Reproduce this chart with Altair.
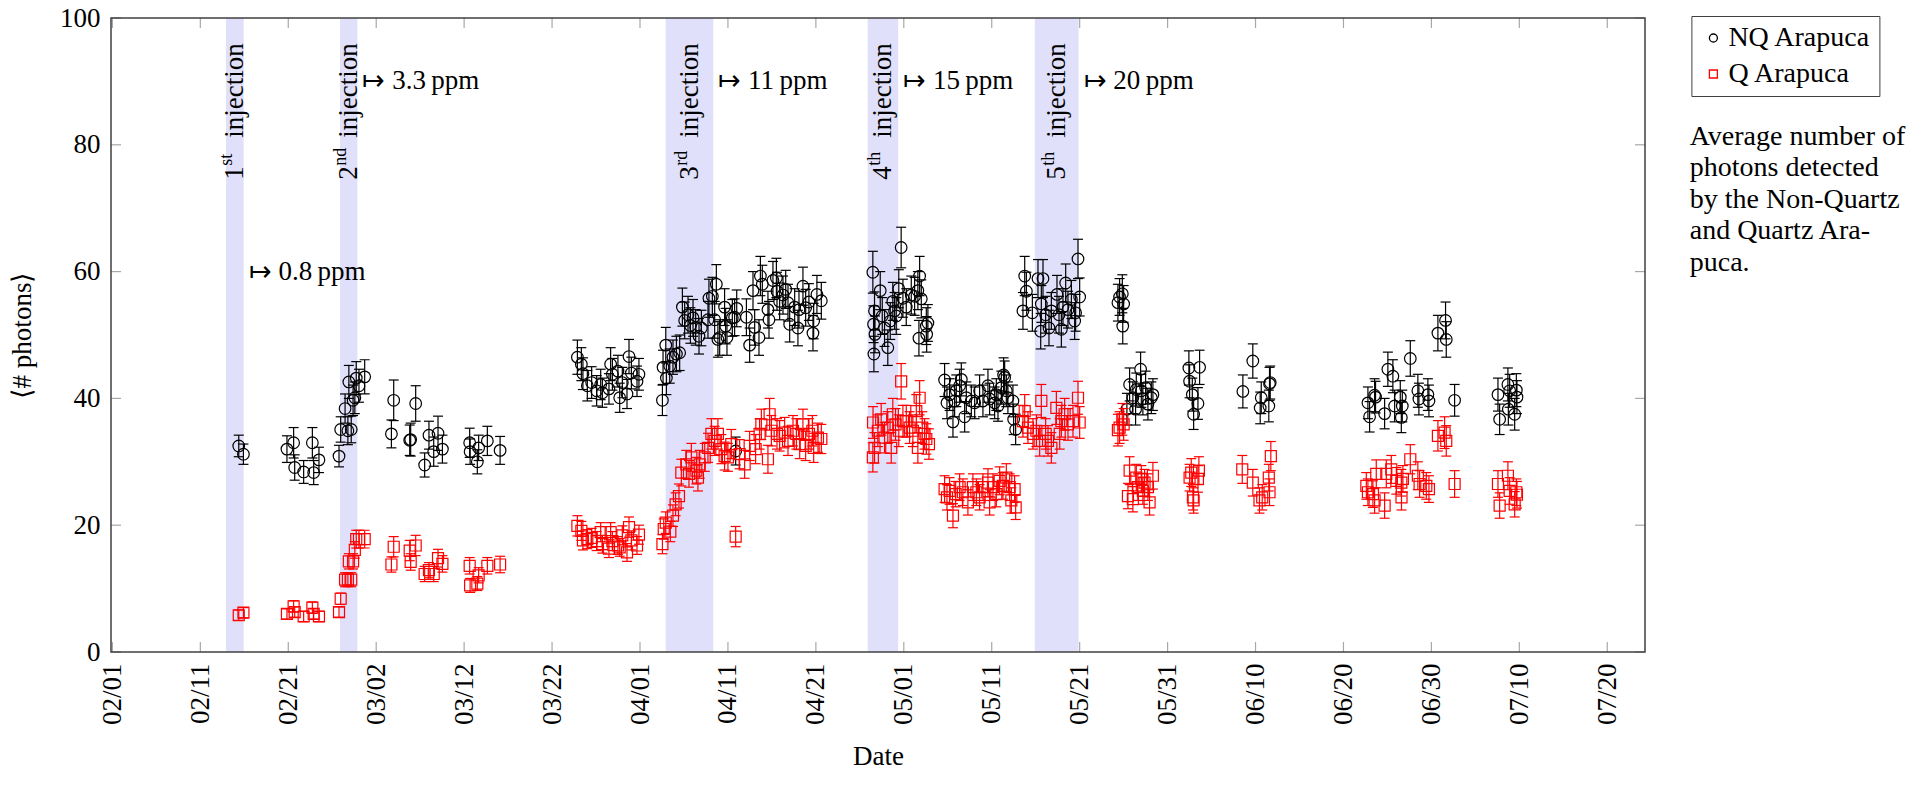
import altair as alt
import numpy as np
import pandas as pd

# ---------------------------------------------------------------- data
start_date = "2020-02-01"  # day offsets below are counted from this date

x_tick_labels = ["02/01", "02/11", "02/21", "03/02", "03/12", "03/22", "04/01", "04/11",
                 "04/21", "05/01", "05/11", "05/21", "05/31", "06/10", "06/20", "06/30",
                 "07/10", "07/20"]
y_tick_values = [0, 20, 40, 60, 80, 100]
series_names = ["NQ Arapuca", "Q Arapuca"]

inj_start = [12.92, 25.88, 62.92, 85.89, 104.90]
inj_end = [14.93, 27.86, 68.34, 89.36, 109.88]
inj_num = ["1", "2", "3", "4", "5"]
inj_sup = ["st", "nd", "rd", "th", "th"]
ppm_text = ["\u21a6 0.8\u2009ppm", "\u21a6 3.3\u2009ppm", "\u21a6 11\u2009ppm",
            "\u21a6 15\u2009ppm", "\u21a6 20\u2009ppm"]
ppm_y = [60, 90, 90, 90, 90]
inj_label_y = 74.5

caption_lines = ["Average number of", "photons detected", "by the Non-Quartz",
                 "and Quartz Ara-", "puca."]

# Non-Quartz Arapuca
nq_day = [
    14.37, 14.9,
    19.85, 20.61, 20.73, 21.75, 22.74, 22.89, 23.49,
    25.77, 25.96, 26.46, 26.78, 26.89, 27.16, 27.37, 27.57, 27.73, 28.04, 28.69,
    31.73, 31.99, 33.81, 33.92, 34.49, 35.51, 36.0, 36.54, 37.03, 37.53,
    40.63, 40.68, 41.5, 41.65, 42.64, 44.09,
    52.88, 53.33, 53.51, 54.01, 54.5, 55.07, 55.53, 55.72, 56.47, 56.66, 56.86, 57.49,
    57.69, 57.99, 58.52, 58.75, 59.02, 59.66, 59.88,
    62.55, 62.62, 62.93, 63.0, 63.38, 63.75, 64.14, 64.51, 64.82, 65.08, 65.46, 65.73,
    66.03, 66.33, 66.71, 66.98, 67.73, 67.84, 68.23, 68.49, 68.68, 68.86, 69.06, 69.62,
    69.74, 69.89, 70.5, 70.76, 70.88, 71.0, 72.1, 72.47, 72.85, 73.04, 73.53, 73.69,
    73.91, 74.55, 74.67, 75.12, 75.51, 75.58, 75.88, 76.26, 76.57, 76.83, 77.02, 77.59,
    77.96, 78.08, 78.53, 78.84, 79.21, 79.67, 79.75, 80.12, 80.62,
    86.48, 86.56, 86.6, 86.67, 86.72, 87.32, 87.55, 87.81, 88.18, 88.46, 88.75, 88.95,
    89.14, 89.43, 89.7, 89.9, 90.28, 90.85, 91.23, 91.6, 91.72, 91.8, 91.99, 92.56,
    92.6, 92.74,
    94.64, 94.91, 95.21, 95.59, 95.78, 95.97, 96.35, 96.54, 96.92, 97.11, 97.68, 98.06,
    98.62, 99.0, 99.57, 99.76, 100.33, 100.52, 100.71, 101.09, 101.35, 101.47, 101.66,
    101.84, 102.41, 102.49, 102.72,
    103.55, 103.75, 103.94, 104.62, 105.26, 105.57, 105.64, 105.83, 106.13, 106.51,
    106.78, 107.42, 107.65, 107.92, 108.1, 108.41, 108.67, 109.06, 109.43, 109.54,
    109.81, 110.0,
    114.35, 114.54, 114.85, 114.9, 115.0,
    115.37, 115.68, 116.05, 116.36, 116.44, 116.93, 117.01, 117.19, 117.5, 117.76,
    118.15, 118.33,
    122.42, 122.5, 122.81, 122.96, 123.45, 123.64,
    128.56, 129.69, 130.53, 130.65, 131.51, 131.59, 131.67,
    142.78, 142.97, 143.54, 143.65, 144.68, 145.05, 145.62, 145.82, 146.46, 146.58,
    146.69, 147.6, 148.46, 148.58, 149.6, 149.72, 150.74, 151.61, 151.69, 152.64,
    157.57, 157.76, 158.7, 158.75, 158.9, 159.47, 159.66, 159.73,
]
nq_val = [
    32.5, 31.2,
    32.0, 33.0, 29.1, 28.4, 33.0, 28.3, 30.3,
    30.9, 35.1, 38.4, 34.9, 42.6, 35.1, 39.7, 40.1, 43.2, 42.0, 43.4,
    34.4, 39.7, 33.4, 33.5, 39.2, 29.5, 34.2, 31.6, 34.5, 32.0,
    33.0, 31.6, 30.0, 32.2, 33.3, 31.8,
    46.5, 45.4, 43.9, 42.0, 42.5, 41.2, 42.2, 40.9, 41.5, 45.4, 43.8, 44.3,
    40.1, 42.5, 40.7, 46.6, 44.0, 42.7, 43.8,
    39.7, 44.9, 48.4, 43.2, 45.1, 46.5, 47.0, 47.2, 54.4, 52.3, 53.2, 51.5,
    52.7, 51.2, 49.8, 51.1, 52.4, 55.8, 56.1, 52.4, 58.0, 49.3, 49.6, 54.4,
    51.4, 49.6, 52.7, 52.8, 31.7, 54.2, 52.8, 48.4, 57.0, 51.2, 49.6, 59.3,
    58.0, 54.0, 52.4, 58.6, 59.0, 56.9, 55.3, 56.3, 57.2, 55.1, 51.7, 54.4,
    51.1, 54.0, 57.7, 54.3, 55.2, 50.3, 52.2, 56.4, 55.4,
    59.9, 51.7, 47.0, 53.8, 50.1, 57.0, 53.0, 51.1, 48.0, 52.2, 55.3, 53.8,
    53.0, 57.3, 63.8, 55.8, 54.4, 56.3, 56.1, 57.0, 49.5, 59.3, 55.7, 51.4,
    50.1, 51.9,
    42.9, 39.3, 40.6, 36.3, 39.6, 41.2, 42.0, 43.0, 37.1, 40.1, 39.6, 39.3,
    41.2, 39.6, 42.0, 39.9, 39.3, 40.6, 38.8, 41.7, 43.7, 43.3, 41.2,
    40.1, 39.6, 36.7, 35.1,
    53.8, 59.3, 56.9, 53.5, 58.9, 50.6, 54.9, 58.9, 53.2, 51.1,
    53.8, 56.4, 53.2, 50.9, 54.4, 58.2, 54.0, 55.6, 52.2, 53.5,
    62.0, 56.0,
    55.1, 56.0, 56.5, 51.4, 54.9,
    38.3, 42.2, 40.1, 38.3, 41.4, 44.6, 41.2, 39.9, 41.7, 39.1,
    40.1, 40.6,
    44.8, 42.7, 40.6, 37.5, 39.2, 44.9,
    41.1, 45.9, 38.5, 40.1, 38.8, 42.3, 42.5,
    39.3, 37.1, 40.5, 40.2, 37.6, 44.6, 43.5, 38.8, 40.2, 37.0,
    38.8, 46.3, 41.2, 39.9, 40.6, 39.6, 50.3, 52.3, 49.3, 39.7,
    40.6, 36.7, 42.2, 38.3, 41.2, 37.5, 41.3, 40.2,
]
nq_err = [
    1.7, 1.6,
    2.1, 2.4, 2.0, 1.8, 2.4, 1.9, 2.0,
    1.7, 2.0, 2.3, 2.2, 2.6, 2.1, 2.4, 2.5, 2.6, 2.6, 2.7,
    2.2, 3.2, 2.4, 2.6, 2.8, 1.9, 2.2, 2.3, 2.7, 2.2,
    2.3, 2.0, 1.9, 2.0, 2.3, 2.2,
    2.7, 2.6, 2.5, 2.4, 2.5, 2.4, 2.4, 2.3, 2.4, 2.6, 2.5, 2.5,
    2.3, 2.4, 2.3, 2.7, 2.5, 2.4, 2.5,
    2.4, 2.7, 2.8, 2.6, 2.7, 2.7, 2.8, 2.8, 3.0, 2.9, 2.9, 2.8,
    2.9, 2.8, 2.8, 2.8, 2.9, 3.0, 3.0, 2.9, 3.1, 2.8, 2.8, 2.9,
    2.8, 2.8, 2.9, 2.9, 2.2, 2.9, 2.9, 2.7, 3.0, 2.8, 2.8, 3.1,
    3.0, 2.9, 2.9, 3.0, 3.1, 3.0, 2.9, 3.0, 3.0, 2.9, 2.8, 2.9,
    2.8, 2.9, 3.0, 2.9, 2.9, 2.8, 2.8, 3.0, 2.9,
    3.3, 2.9, 2.8, 3.0, 2.9, 3.0, 2.9, 2.9, 2.8, 2.9, 3.0, 2.9,
    2.9, 3.0, 3.2, 3.0, 2.9, 3.0, 3.0, 3.0, 2.8, 3.1, 3.0, 2.9,
    2.8, 2.9,
    2.6, 2.5, 2.5, 2.4, 2.5, 2.5, 2.6, 2.6, 2.4, 2.5, 2.5, 2.5,
    2.5, 2.5, 2.6, 2.5, 2.5, 2.5, 2.4, 2.6, 2.7, 2.6, 2.5,
    2.5, 2.5, 2.4, 2.4,
    2.9, 3.1, 3.0, 2.9, 3.0, 2.8, 2.9, 3.0, 2.9, 2.8,
    2.9, 3.0, 2.9, 2.8, 2.9, 3.0, 2.9, 3.0, 2.9, 2.9,
    3.1, 3.0,
    2.9, 2.9, 3.0, 2.8, 2.9,
    2.5, 2.6, 2.5, 2.5, 2.6, 2.7, 2.6, 2.5, 2.6, 2.5,
    2.5, 2.5,
    2.7, 2.6, 2.6, 2.4, 2.5, 2.7,
    2.6, 2.7, 2.5, 2.5, 2.5, 2.6, 2.6,
    2.5, 2.4, 2.6, 2.5, 2.4, 2.7, 2.6, 2.5, 2.6, 2.4,
    2.5, 2.8, 2.6, 2.5, 2.5, 2.5, 2.8, 2.9, 2.8, 2.5,
    2.6, 2.4, 2.6, 2.5, 2.6, 2.5, 2.6, 2.6,
]

# Quartz Arapuca
q_day = [
    14.37, 14.9,
    19.85, 20.61, 20.73, 21.75, 22.74, 22.89, 23.49,
    25.77, 25.96, 26.46, 26.78, 26.89, 27.16, 27.37, 27.57, 27.73, 28.04, 28.69,
    31.73, 31.99, 33.81, 33.92, 34.49, 35.51, 36.0, 36.54, 37.03, 37.53,
    40.63, 40.68, 41.5, 41.65, 42.64, 44.09,
    52.88, 53.33, 53.51, 54.01, 54.5, 55.07, 55.53, 55.72, 56.47, 56.66, 56.86, 57.49,
    57.69, 57.99, 58.52, 58.75, 59.02, 59.66, 59.88,
    62.55, 62.7, 62.93, 63.45, 63.75, 64.05, 64.43, 64.7, 65.27, 65.57, 65.84, 66.41,
    66.59, 66.79, 67.36, 67.73, 68.12, 68.49, 68.86, 69.25, 69.62, 70.0, 70.38, 70.88,
    71.33, 71.9, 72.47, 73.15, 73.6, 73.8, 74.55, 74.74, 74.94, 75.58, 75.88, 76.45,
    76.83, 77.4, 77.78, 78.16, 78.53, 78.84, 79.21, 79.6, 79.75, 80.24, 80.62,
    86.48, 86.5, 86.67, 87.05, 87.43, 87.81, 88.18, 88.57, 88.75, 89.06, 89.43, 89.7,
    89.9, 90.28, 90.66, 91.03, 91.42, 91.6, 91.8, 92.1, 92.36, 92.56, 92.86,
    94.64, 94.91, 95.21, 95.59, 95.9, 96.35, 96.72, 97.29, 97.86, 98.25, 98.62, 99.0,
    99.57, 99.76, 100.14, 100.52, 100.9, 101.27, 101.66, 102.04, 102.23, 102.6, 102.72,
    103.55, 103.75, 104.12, 104.69, 105.08, 105.45, 105.64, 106.13, 106.4, 106.78,
    107.35, 107.73, 107.92, 108.29, 108.67, 109.24, 109.81, 110.0,
    114.35, 114.54, 114.85, 115.0,
    115.49, 115.68, 116.05, 116.44, 116.62, 117.01, 117.19, 117.38, 117.76, 117.95,
    118.33,
    122.5, 122.69, 122.88, 122.96, 123.45, 123.56,
    128.49, 129.69, 130.45, 130.76, 131.51, 131.59, 131.74,
    142.6, 142.78, 143.35, 143.54, 143.73, 144.68, 144.87, 145.44, 146.01, 146.58,
    146.6, 146.76, 147.6, 148.46, 148.66, 149.42, 149.72, 150.74, 151.5, 151.69,
    152.64,
    157.57, 157.76, 158.7, 158.9, 159.47, 159.66, 159.73,
]
q_val = [
    5.8, 6.2,
    6.0, 7.2, 6.3, 5.6, 7.0, 6.0, 5.6,
    6.3, 8.4, 11.4, 11.4, 14.3, 11.4, 14.3, 16.1, 17.8, 17.8, 17.8,
    13.8, 16.6, 16.0, 14.2, 16.8, 12.3, 12.9, 12.3, 14.8, 13.9,
    13.6, 10.5, 10.8, 12.1, 13.6, 13.8,
    19.9, 19.1, 17.6, 17.8, 18.0, 17.5, 18.9, 17.0, 16.3, 18.9, 17.5, 16.8,
    16.5, 18.4, 15.7, 19.7, 17.6, 16.8, 18.5,
    17.0, 19.4, 20.4, 19.0, 21.5, 23.3, 24.6, 28.3, 29.6, 28.1, 30.7, 28.6,
    27.5, 29.6, 30.7, 32.2, 34.4, 33.3, 34.4, 32.0, 30.9, 30.7, 32.8, 18.2,
    31.2, 29.6, 32.5, 32.0, 34.4, 35.9, 30.4, 37.5, 34.9, 34.4, 34.1, 34.6,
    33.3, 34.9, 34.4, 32.8, 35.9, 32.5, 34.4, 34.9, 32.2, 33.8, 33.6,
    30.7, 36.2, 32.2, 34.9, 36.7, 33.8, 35.4, 32.2, 37.5, 35.9, 34.9, 42.7,
    36.4, 36.4, 35.4, 34.9, 38.0, 32.2, 40.1, 35.4, 34.4, 33.6, 32.8,
    25.7, 24.4, 25.4, 21.5, 24.9, 26.0, 25.2, 23.6, 26.0, 25.2, 24.4, 26.0,
    26.7, 23.6, 26.0, 24.9, 27.0, 26.2, 27.5, 26.0, 23.9, 25.7, 22.8,
    36.4, 38.0, 35.4, 34.4, 34.9, 33.3, 39.6, 34.4, 33.3, 32.2,
    38.5, 34.4, 36.4, 37.5, 35.9, 36.4, 40.1, 36.2,
    35.0, 35.4, 36.7, 35.9,
    24.6, 28.6, 24.1, 27.5, 26.0, 27.3, 25.4, 26.7, 26.0, 23.6,
    27.8,
    27.5, 28.3, 24.4, 23.9, 27.3, 28.6,
    28.8, 26.7, 23.9, 24.4, 27.5, 25.2, 30.9,
    26.2, 25.2, 24.9, 23.9, 28.1, 23.1, 28.1, 28.8, 27.0, 26.7,
    24.4, 27.3, 30.4, 27.8, 26.5, 26.2, 25.7, 34.1, 34.6, 33.3,
    26.5,
    26.5, 23.1, 27.8, 25.4, 23.3, 25.2, 24.8,
]
q_err = [
    0.8, 0.8,
    0.8, 0.9, 0.8, 0.8, 0.9, 0.8, 0.8,
    0.8, 0.9, 1.1, 1.1, 1.2, 1.1, 1.2, 1.3, 1.4, 1.4, 1.4,
    1.2, 1.6, 1.6, 1.3, 1.6, 1.2, 1.2, 1.2, 1.4, 1.3,
    1.3, 1.1, 1.1, 1.2, 1.3, 1.3,
    1.6, 1.5, 1.5, 1.5, 1.5, 1.5, 1.5, 1.4, 1.4, 1.5, 1.5, 1.4,
    1.4, 1.5, 1.4, 1.6, 1.5, 1.4, 1.5,
    1.5, 1.6, 1.7, 1.6, 1.7, 1.8, 1.9, 2.1, 2.2, 2.1, 2.2, 2.1,
    2.1, 2.2, 2.2, 2.3, 2.4, 2.3, 2.4, 2.3, 2.2, 2.2, 2.3, 1.6,
    2.3, 2.2, 2.3, 2.3, 2.4, 2.4, 2.2, 2.5, 2.4, 2.4, 2.4, 2.4,
    2.3, 2.4, 2.4, 2.3, 2.4, 2.3, 2.4, 2.4, 2.3, 2.3, 2.3,
    2.3, 2.5, 2.4, 2.5, 2.5, 2.4, 2.5, 2.4, 2.5, 2.5, 2.5, 2.8,
    2.5, 2.5, 2.5, 2.5, 2.6, 2.4, 2.7, 2.5, 2.4, 2.4, 2.4,
    2.1, 2.0, 2.1, 1.9, 2.0, 2.1, 2.1, 2.0, 2.1, 2.1, 2.0, 2.1,
    2.2, 2.0, 2.1, 2.0, 2.2, 2.1, 2.2, 2.1, 2.0, 2.1, 1.9,
    2.5, 2.6, 2.5, 2.4, 2.5, 2.4, 2.6, 2.4, 2.4, 2.4,
    2.6, 2.4, 2.5, 2.5, 2.5, 2.5, 2.6, 2.5,
    2.5, 2.5, 2.5, 2.5,
    2.0, 2.2, 2.0, 2.1, 2.1, 2.1, 2.1, 2.1, 2.1, 2.0,
    2.1,
    2.1, 2.2, 2.0, 2.0, 2.1, 2.2,
    2.2, 2.1, 2.0, 2.0, 2.1, 2.1, 2.3,
    2.1, 2.1, 2.1, 2.0, 2.2, 2.0, 2.2, 2.2, 2.1, 2.1,
    2.0, 2.1, 2.3, 2.2, 2.1, 2.1, 2.1, 2.4, 2.5, 2.4,
    2.1,
    2.1, 2.0, 2.2, 2.1, 2.0, 2.1, 2.1,
]

# ---------------------------------------------------------------- styling
FONT = "Liberation Serif"
W, H = 1534, 634
TICK_FS = 27
TEXT_FS = 27
SIDE_FS = 28
BAND_COLOR = "#e0e0fa"
TICK_COLOR = "#a8a8a8"
FRAME_COLOR = "#404040"

base = pd.Timestamp(start_date)


def to_date(d):
    return base + pd.Timedelta(days=float(d))


def series_df(days, vals, errs, name):
    rows = [(to_date(d), v, v - e, v + e) for d, v, e in zip(days, vals, errs)]
    df = pd.DataFrame(rows, columns=["date", "val", "lo", "hi"])
    df["series"] = name
    return df


nq_df = series_df(nq_day, nq_val, nq_err, series_names[0])
q_df = series_df(q_day, q_val, q_err, series_names[1])

inj_df = pd.DataFrame({
    "start": [to_date(d) for d in inj_start],
    "end": [to_date(d) for d in inj_end],
    "mid": [to_date((a + b) / 2) for a, b in zip(inj_start, inj_end)],
    "num": inj_num,
    "sup": inj_sup,
    "ppm": ppm_text,
    "ppm_y": ppm_y,
})


def tick_dt(lbl):
    return alt.DateTime(year=base.year, month=int(lbl[:2]), date=int(lbl[3:]))


xtick_df = pd.DataFrame({"d": [pd.Timestamp(year=base.year, month=int(s[:2]), day=int(s[3:]))
                               for s in x_tick_labels]})
ytick_df = pd.DataFrame({"v": y_tick_values})
one_row = pd.DataFrame({"k": [0]})

x_scale = alt.Scale(domain=[alt.DateTime(year=2020, month=1, date=31, hours=20, minutes=10),
                            alt.DateTime(year=2020, month=7, date=24, hours=7)])
y_scale = alt.Scale(domain=[0, 100], nice=False, zero=False)

x_axis = alt.Axis(values=[tick_dt(s) for s in x_tick_labels], format="%m/%d",
                  labelAngle=270, labelFont=FONT, labelFontSize=TICK_FS, labelColor="black",
                  labelPadding=11, labelOverlap=False, labelFlush=False,
                  ticks=False, tickSize=0, domain=False, grid=False,
                  title="Date", titleFont=FONT, titleFontSize=TEXT_FS,
                  titleFontWeight="normal", titleColor="black",
                  titleY=104, titleBaseline="middle")
y_axis = alt.Axis(values=y_tick_values, labelFont=FONT, labelFontSize=TICK_FS,
                  labelColor="black", labelPadding=11, ticks=False, tickSize=0,
                  domain=False, grid=False,
                  title="\u27e8# photons\u27e9", titleFont=FONT, titleFontSize=TEXT_FS,
                  titleFontWeight="normal", titleColor="black", titleAngle=270,
                  titleAlign="center", titleBaseline="middle", titleX=-89, titleY=H / 2)


def X(field):
    return alt.X(field, type="temporal", scale=x_scale, axis=x_axis)


def Y(field):
    return alt.Y(field, type="quantitative", scale=y_scale, axis=y_axis)


legend = alt.Legend(orient="none", legendX=W + 46.4, legendY=-2, title=None,
                    labelFont=FONT, labelFontSize=SIDE_FS, labelColor="black",
                    labelExpr="datum.value == 'Q Arapuca' ? '\u00a0\u200aQ Arapuca' : datum.label",
                    symbolSize=64, symbolStrokeWidth=1.3, strokeColor=FRAME_COLOR,
                    fillColor="white", padding=8, rowPadding=8, labelOffset=1)
color_enc = alt.Color("series:N", scale=alt.Scale(domain=series_names, range=["#000000", "#ff0000"]),
                      legend=legend)
shape_enc = alt.Shape("series:N", scale=alt.Scale(domain=series_names, range=["circle", "square"]),
                      legend=legend)

# ---------------------------------------------------------------- layers
bands = alt.Chart(inj_df).mark_rect(color=BAND_COLOR).encode(
    x=X("start"), x2="end", y=alt.Y(datum=0, scale=y_scale, axis=y_axis), y2=alt.datum(100))

left_ticks = alt.Chart(ytick_df).mark_rule(color=TICK_COLOR, strokeWidth=1.2).encode(
    y=Y("v"), x=alt.value(0), x2=alt.value(10))
right_ticks = alt.Chart(ytick_df).mark_rule(color=TICK_COLOR, strokeWidth=1.2).encode(
    y=Y("v"), x=alt.value(W - 10), x2=alt.value(W))
bottom_ticks = alt.Chart(xtick_df).mark_rule(color=TICK_COLOR, strokeWidth=1.2).encode(
    x=X("d"), y=alt.value(H - 10), y2=alt.value(H))
top_ticks = alt.Chart(xtick_df).mark_rule(color=TICK_COLOR, strokeWidth=1.2).encode(
    x=X("d"), y=alt.value(0), y2=alt.value(10))


def series_layers(df, col, size):
    rule = alt.Chart(df).mark_rule(color=col, strokeWidth=1.2).encode(
        x=X("date"), y=Y("lo"), y2="hi")
    cap_lo = alt.Chart(df).mark_tick(color=col, orient="horizontal", size=10, thickness=1.2,
                                     opacity=1).encode(x=X("date"), y=Y("lo"))
    cap_hi = alt.Chart(df).mark_tick(color=col, orient="horizontal", size=10, thickness=1.2,
                                     opacity=1).encode(x=X("date"), y=Y("hi"))
    pts = alt.Chart(df).mark_point(filled=False, strokeWidth=1.2, size=size, opacity=1).encode(
        x=X("date"), y=Y("val"), color=color_enc, shape=shape_enc)
    return [rule, cap_lo, cap_hi, pts]


inj_num_txt = alt.Chart(inj_df).mark_text(
    angle=270, align="left", baseline="middle", font=FONT, fontSize=TEXT_FS, color="black"
).encode(x=X("mid"), y=alt.Y(datum=inj_label_y, scale=y_scale, axis=y_axis), text="num:N")
inj_sup_txt = alt.Chart(inj_df).mark_text(
    angle=270, align="left", baseline="middle", font=FONT, fontSize=18, color="black",
    dx=14, dy=-8
).encode(x=X("mid"), y=alt.Y(datum=inj_label_y, scale=y_scale, axis=y_axis), text="sup:N")
inj_word_txt = alt.Chart(inj_df).mark_text(
    angle=270, align="left", baseline="middle", font=FONT, fontSize=TEXT_FS, color="black",
    dx=42
).encode(x=X("mid"), y=alt.Y(datum=inj_label_y, scale=y_scale, axis=y_axis),
         text=alt.value("injection"))
ppm_txt = alt.Chart(inj_df).mark_text(
    align="left", baseline="middle", font=FONT, fontSize=TEXT_FS, color="black", dx=5
).encode(x=X("end"), y=Y("ppm_y"), text="ppm:N")

caption = alt.Chart(one_row).mark_text(
    align="left", baseline="alphabetic", font=FONT, fontSize=SIDE_FS, lineHeight=31.6,
    color="black"
).encode(x=alt.value(W + 44.7), y=alt.value(126.7), text=alt.value(caption_lines))

frame = alt.Chart(one_row).mark_rect(fillOpacity=0, stroke=FRAME_COLOR, strokeWidth=1.5).encode(
    x=alt.value(0), x2=alt.value(W), y=alt.value(0), y2=alt.value(H))

layers = [bands, left_ticks, right_ticks, bottom_ticks, top_ticks]
layers += series_layers(nq_df, "#000000", 135)
layers += series_layers(q_df, "#ff0000", 121)
layers += [inj_num_txt, inj_sup_txt, inj_word_txt, ppm_txt, caption, frame]

chart = alt.layer(*layers).properties(
    width=W, height=H,
    autosize=alt.AutoSizeParams(type="none"),
    padding={"left": 103, "top": 10, "right": 262, "bottom": 121},
).configure(background="white", font=FONT).configure_view(strokeWidth=0).configure_axis(
    labelFont=FONT, titleFont=FONT).configure_legend(labelFont=FONT).configure_text(font=FONT)

chart.save("out.html", embed_options={"renderer": "svg", "actions": False})
